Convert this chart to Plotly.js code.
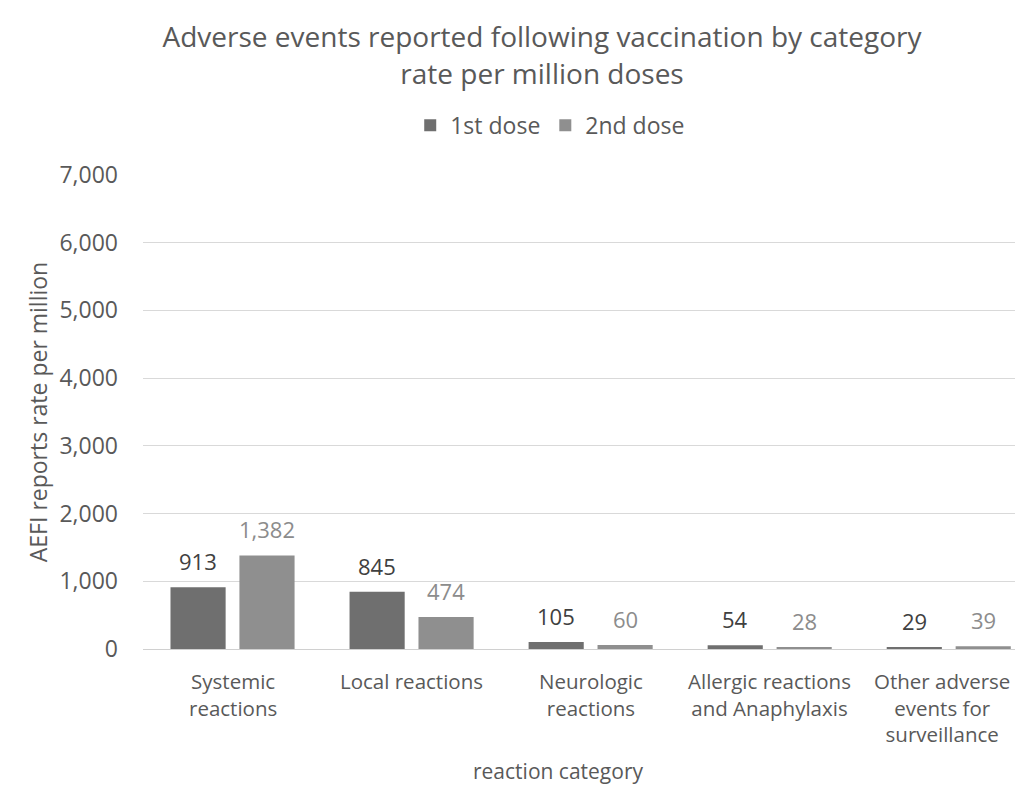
<!DOCTYPE html>
<html><head><meta charset="utf-8">
<script src="https://cdn.plot.ly/plotly-3.0.1.min.js"></script>
<style>html,body{margin:0;padding:0;background:#fff}#chart{width:1015px;height:788px}</style>
</head><body><div id="chart"></div>
<script>
const categories = ["Systemic<br>reactions", "Local reactions", "Neurologic<br>reactions", "Allergic reactions<br>and Anaphylaxis", "Other adverse<br>events for<br>surveillance"];
const dose1 = [913, 845, 105, 54, 29];
const dose2 = [1382, 474, 60, 28, 39];
const seriesNames = ["1st dose", "2nd dose"];
const yTicks = [0, 1000, 2000, 3000, 4000, 5000, 6000, 7000];

const font = "Open Sans, sans-serif";
const fmt = v => v.toLocaleString("en-US");
const idx = categories.map((c, i) => i);

const bargap = 0.23;
const half = (1 - bargap) / 4; // centre offset of each bar in a group of two

const traces = [
  {type: "bar", name: seriesNames[0], x: idx, y: dose1, marker: {color: "#6f6f6f"}, hoverinfo: "none"},
  {type: "bar", name: seriesNames[1], x: idx, y: dose2, marker: {color: "#8f8f8f"}, hoverinfo: "none"}
];

const labelAnn = (vals, sign, color) => vals.map((v, i) => ({
  x: i + sign * half, y: v, xref: "x", yref: "y", text: fmt(v), showarrow: false,
  yanchor: "middle", yshift: 26, font: {family: font, size: 22, color: color}
}));

const catAnn = categories.map((c, i) => ({
  x: i, y: 0, xref: "x", yref: "y", text: c, showarrow: false, align: "center",
  xanchor: "center", yanchor: "top", yshift: -16, xshift: i === categories.length - 1 ? -7 : 0,
  font: {family: font, size: 20.5, color: "#595959"}
}));

const layout = {
  width: 1015, height: 788,
  margin: {l: 143, r: 0, t: 175, b: 139},
  paper_bgcolor: "#fff", plot_bgcolor: "#fff",
  font: {family: font, color: "#595959"},
  title: {text: "Adverse events reported following vaccination by category<br>rate per million doses",
          font: {family: font, size: 28, color: "#595959"},
          x: 0.534, xanchor: "center", xref: "container", yref: "container", y: 0.94, yanchor: "top"},
  barmode: "group", bargap: bargap, bargroupgap: 0.2,
  showlegend: true,
  legend: {orientation: "h", x: 0.467, xanchor: "center", y: 1.105, yanchor: "middle",
           font: {family: font, size: 23, color: "#595959"}, traceorder: "normal"},
  xaxis: {
    range: [-0.5, 4.37], tickmode: "array", tickvals: idx, showticklabels: false,
    showgrid: false, zeroline: false,
    showline: true, linecolor: "#d0d0d0", ticks: "", automargin: false
  },
  yaxis: {
    range: [0, 7000], tickmode: "array", tickvals: yTicks, ticktext: yTicks.map(fmt),
    tickfont: {family: font, size: 23, color: "#595959"}, showgrid: true, gridcolor: "#d9d9d9",
    zeroline: false, showline: false, ticks: "", automargin: false, ticklabelstandoff: 24,
    title: {text: "AEFI reports rate per million", font: {family: font, size: 23, color: "#595959"}, standoff: 5}
  },
  annotations: [
    ...labelAnn(dose1, -1, "#404040"),
    ...labelAnn(dose2, 1, "#8c8c8c"),
    ...catAnn,
    {text: "reaction category", xref: "paper", yref: "paper", x: 0.476, y: -0.258,
     xanchor: "center", yanchor: "middle", showarrow: false,
     font: {family: font, size: 21, color: "#595959"}}
  ]
};

Plotly.newPlot("chart", traces, layout, {displayModeBar: false, staticPlot: true});
</script></body></html>
